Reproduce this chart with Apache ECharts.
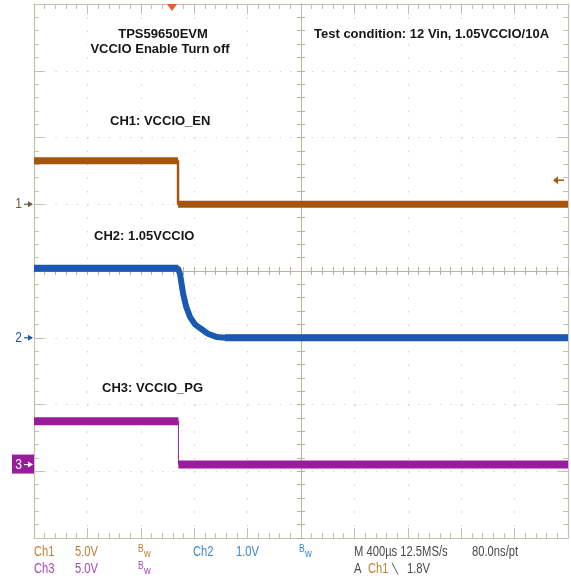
<!DOCTYPE html>
<html><head><meta charset="utf-8">
<script src="https://cdn.jsdelivr.net/npm/echarts@6/dist/echarts.min.js"></script>
<style>html,body{margin:0;padding:0;background:#fff}#c{width:571px;height:579px}</style>
</head><body><div id="c"></div>
<script>
// ---- data (time in µs relative to screen centre, volts) ----
const ch1Time  = [-2000, -921, -921, 2000];
const ch1Volts = [3.25, 3.25, 0, 0];
const ch2Time  = [-2000, -921, -906, -884, -861, -831, -794, -757, -697, -629, -569, 2000];
const ch2Volts = [1.04, 1.04, 0.95, 0.67, 0.47, 0.31, 0.20, 0.145, 0.06, 0.01, 0, 0];
const ch3Time  = [-2000, -918, -918, 2000];
const ch3Volts = [3.25, 3.25, 0, 0];
const chVoltsPerDiv = [5, 1, 5];
const chGroundDiv   = [1.0, -1.0, -2.9];
const triggerTime = -966;
const triggerLevel = 1.8;
const xTicks = {min: -2000, max: 2000, step: 400};
const yTicks = {min: -4, max: 4, step: 1};
const annotations = ['TPS59650EVM', 'VCCIO Enable Turn off', 'Test condition: 12 Vin, 1.05VCCIO/10A',
  'CH1: VCCIO_EN', 'CH2: 1.05VCCIO', 'CH3: VCCIO_PG'];

const C1 = '#a5560c', C2 = '#1b58b2', C3 = '#981c9c';
const FRAME = '#c4bfae', CROSS = '#b9b4a2', DOT = '#d2d2d2';
const SANS = '"Liberation Sans", Arial, sans-serif';

function toDiv(ch, v) { return chGroundDiv[ch] + v / chVoltsPerDiv[ch]; }
function pts(ch, t, v) { return t.map((x, i) => [x, toDiv(ch, v[i])]); }
function flatSegs(ch, t, v) {
  const segs = [];
  for (let i = 0; i < t.length - 1; i++) if (v[i] === v[i + 1] && t[i] !== t[i + 1]) segs.push([[t[i], toDiv(ch, v[i])], [t[i + 1], toDiv(ch, v[i + 1])]]);
  return segs;
}

const chart = echarts.init(document.getElementById('c'), null, {renderer: 'canvas'});

function xAx(extra) {
  return Object.assign({type: 'value', min: xTicks.min, max: xTicks.max, interval: xTicks.step,
    axisLabel: {show: false}, splitLine: {show: false}}, extra);
}
function yAx(extra) {
  return Object.assign({type: 'value', min: yTicks.min, max: yTicks.max, interval: yTicks.step,
    axisLabel: {show: false}, splitLine: {show: false}}, extra);
}
const frameLine = {onZero: false, lineStyle: {color: FRAME, width: 1.2}};
const frameTick = {show: true, inside: true, length: 10, lineStyle: {color: FRAME}};
const frameMinor = {show: true, splitNumber: 5, length: 5, lineStyle: {color: FRAME}};
const crossLine = {onZero: true, onZeroAxisIndex: 0, lineStyle: {color: CROSS, width: 1}};
const crossTickIn = {show: true, inside: true, length: 4, lineStyle: {color: CROSS}};
const crossTickOut = {show: true, inside: false, length: 4, lineStyle: {color: CROSS}};
const crossMinor = {show: true, splitNumber: 5, length: 4, lineStyle: {color: CROSS}};

const series = [];
function addChannel(ch, t, v, color, edgeWidth, bandWidth) {
  series.push({type: 'line', data: pts(ch, t, v), showSymbol: false, symbol: 'none', animation: false,
    lineStyle: {color: color, width: edgeWidth}, z: 5});
  flatSegs(ch, t, v).forEach(s => series.push({type: 'line', data: s, showSymbol: false, symbol: 'none',
    animation: false, lineStyle: {color: color, width: bandWidth, cap: 'butt'}, z: 5}));
}
addChannel(0, ch1Time, ch1Volts, C1, 2.5, 7);
addChannel(1, ch2Time, ch2Volts, C2, 6, 7);
addChannel(2, ch3Time, ch3Volts, C3, 1, 8);

chart.setOption({
  animation: false,
  backgroundColor: '#ffffff',
  grid: {left: 34, top: 4, width: 534, height: 534, containLabel: false},
  xAxis: [
    xAx({position: 'bottom', axisLine: frameLine, axisTick: frameTick, minorTick: frameMinor,
      splitLine: {show: true, lineStyle: {color: DOT, type: [1.5, 11.85], width: 1.2}}}),
    xAx({position: 'top', axisLine: frameLine, axisTick: frameTick, minorTick: frameMinor}),
    xAx({position: 'bottom', axisLine: crossLine, axisTick: crossTickIn, minorTick: crossMinor}),
    xAx({position: 'bottom', axisLine: crossLine, axisTick: crossTickOut, minorTick: crossMinor})
  ],
  yAxis: [
    yAx({position: 'left', axisLine: frameLine, axisTick: frameTick, minorTick: frameMinor,
      splitLine: {show: true, lineStyle: {color: DOT, type: [1.5, 9.18], width: 1.2}}}),
    yAx({position: 'right', axisLine: frameLine, axisTick: frameTick, minorTick: frameMinor}),
    yAx({position: 'left', axisLine: crossLine, axisTick: crossTickIn, minorTick: crossMinor}),
    yAx({position: 'left', axisLine: crossLine, axisTick: crossTickOut, minorTick: crossMinor})
  ],
  series: series
});

const px = (x, y) => chart.convertToPixel({xAxisIndex: 0, yAxisIndex: 0}, [x, y]);
const g = [];
const BOLD = 'bold 13px ' + SANS;
function note(text, x, y, align) {
  g.push({type: 'text', z: 20, style: {text: text, x: x, y: y, align: align, verticalAlign: 'middle',
    font: BOLD, fill: '#161616', backgroundColor: '#ffffff', padding: [2, 3]}});
}
note(annotations[0], 163, 34, 'center');
note(annotations[1], 160, 49, 'center');
note(annotations[2], 311, 34, 'left');
note(annotations[3], 107, 121, 'left');
note(annotations[4], 91, 236, 'left');
note(annotations[5], 99, 388, 'left');

// trigger position marker (top)
const tp = px(triggerTime, yTicks.max);
g.push({type: 'polygon', z: 30, shape: {points: [[tp[0] - 5, tp[1]], [tp[0] + 5, tp[1]], [tp[0], tp[1] + 7]]},
  style: {fill: '#ef5a2a'}});
// trigger level marker (right)
const tl = px(xTicks.max, toDiv(0, triggerLevel));
g.push({type: 'polyline', z: 30, shape: {points: [[tl[0] - 13, tl[1]], [tl[0] - 4, tl[1]]]}, style: {stroke: C1, lineWidth: 1.5}});
g.push({type: 'polygon', z: 30, shape: {points: [[tl[0] - 15, tl[1]], [tl[0] - 10, tl[1] - 4], [tl[0] - 10, tl[1] + 4]]}, style: {fill: C1}});

// narrow scope-style text: Liberation Sans squeezed horizontally
function narrow(text, x, y, fill, size, align) {
  g.push({type: 'text', z: 31, x: x, y: y, scaleX: 0.8, scaleY: 1,
    style: {text: text, x: 0, y: 0, align: align || 'left', verticalAlign: 'middle', font: (size || 14) + 'px ' + SANS, fill: fill}});
}

// ground markers (left)
function ground(ch, label, color, boxed) {
  const p = px(xTicks.min, toDiv(ch, 0));
  const y = p[1], x0 = p[0];
  const fg = boxed ? '#ffffff' : color;
  if (boxed) g.push({type: 'rect', z: 30, shape: {x: 12, y: y - 10, width: x0 - 12, height: 19}, style: {fill: color}});
  narrow(label, 22, y, fg, 15, 'right');
  g.push({type: 'polyline', z: 31, shape: {points: [[24, y], [x0 - 2, y]]}, style: {stroke: fg, lineWidth: 1.2}});
  g.push({type: 'polygon', z: 31, shape: {points: [[x0 - 1, y], [x0 - 6, y - 3], [x0 - 6, y + 3]]}, style: {fill: fg}});
}
ground(0, '1', '#6e5a40', false);
ground(1, '2', C2, false);
ground(2, '3', C3, true);

// status bar
const bw = (x, y, fill) => {
  g.push({type: 'text', z: 20, x: x, y: y - 3, scaleX: 0.85, style: {text: 'B', x: 0, y: 0, verticalAlign: 'middle', font: '10px ' + SANS, fill: fill}});
  g.push({type: 'text', z: 20, x: x + 6, y: y + 2, scaleX: 0.85, style: {text: 'w', x: 0, y: 0, verticalAlign: 'middle', font: '11px ' + SANS, fill: fill}});
};
const T1 = '#c08030', T2 = '#3a88cc', T3 = '#a04cae', TD = '#4a4a4a';
narrow('Ch1', 34, 552, T1); narrow('5.0V', 75, 552, T1); bw(138, 552, T1);
narrow('Ch2', 193, 552, T2); narrow('1.0V', 236, 552, T2); bw(299, 552, T2);
narrow('M 400\u00b5s 12.5MS/s', 354, 552, TD); narrow('80.0ns/pt', 472, 552, TD);
narrow('Ch3', 34, 569, T3); narrow('5.0V', 75, 569, T3); bw(138, 569, T3);
narrow('A', 354, 569, TD); narrow('Ch1', 368, 569, T1);
g.push({type: 'text', z: 20, style: {text: '\u2572', x: 392, y: 569, verticalAlign: 'middle', font: '10px "DejaVu Sans", sans-serif', fill: TD}});
narrow('1.8V', 407, 569, TD);

chart.setOption({graphic: g});
</script>
</body></html>
